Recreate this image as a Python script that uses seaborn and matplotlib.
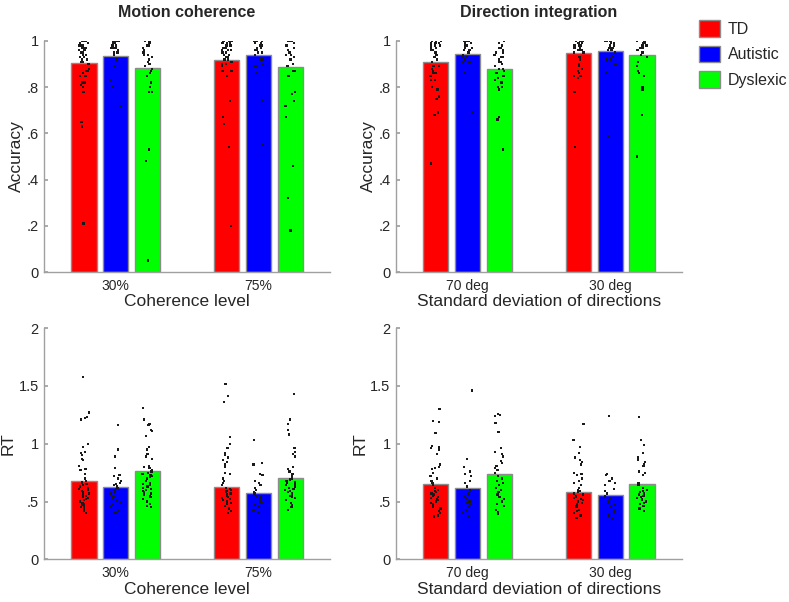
import numpy as np
import pandas as pd
import matplotlib.pyplot as plt
import seaborn as sns
from matplotlib.patches import Patch

# ================= DATA =================

GROUPS = ["TD", "Autistic", "Dyslexic"]
COLORS = ["#ff0000", "#0000ff", "#00ff00"]
MC_LEVELS = ["30%", "75%"]
DI_LEVELS = ["70 deg", "30 deg"]

# bar heights (group means), order TD / Autistic / Dyslexic
acc_mc_mean_30 = [0.906, 0.936, 0.884]
acc_mc_mean_75 = [0.918, 0.939, 0.886]
acc_di_mean_70 = [0.910, 0.942, 0.879]
acc_di_mean_30 = [0.946, 0.955, 0.939]
rt_mc_mean_30 = [0.680, 0.629, 0.765]
rt_mc_mean_75 = [0.629, 0.571, 0.701]
rt_di_mean_70 = [0.652, 0.615, 0.736]
rt_di_mean_30 = [0.583, 0.557, 0.649]

# individual participants - accuracy, motion coherence
acc_mc_30_td = [1, 1, 1, 1, 0.99, 0.99, 0.99, 0.98, 0.98, 0.98, 0.98, 0.97, 0.97, 0.97,
                0.97, 0.96, 0.96, 0.96, 0.95, 0.95, 0.95, 0.94, 0.94, 0.93, 0.93, 0.92,
                0.92, 0.91, 0.91, 0.90, 0.88, 0.87, 0.87, 0.87, 0.86, 0.85, 0.85, 0.82,
                0.82, 0.81, 0.80, 0.78, 0.65, 0.63, 0.21]
acc_mc_30_aut = [1, 1, 1, 0.99, 0.99, 0.98, 0.98, 0.98, 0.97, 0.97, 0.97, 0.96, 0.96,
                 0.96, 0.95, 0.95, 0.95, 0.94, 0.92, 0.89, 0.89, 0.83, 0.80, 0.72]
acc_mc_30_dys = [1, 1, 0.99, 0.99, 0.98, 0.98, 0.97, 0.97, 0.96, 0.96, 0.95, 0.95, 0.94,
                 0.94, 0.93, 0.92, 0.91, 0.90, 0.89, 0.88, 0.87, 0.86, 0.85, 0.82, 0.80,
                 0.78, 0.78, 0.53, 0.48, 0.05]
acc_mc_75_td = [1, 1, 1, 1, 1, 0.99, 0.99, 0.99, 0.98, 0.98, 0.98, 0.98, 0.97, 0.97,
                0.97, 0.96, 0.96, 0.96, 0.95, 0.95, 0.95, 0.94, 0.94, 0.93, 0.93, 0.92,
                0.92, 0.91, 0.90, 0.90, 0.89, 0.87, 0.87, 0.85, 0.74, 0.67, 0.64, 0.54, 0.20]
acc_mc_75_aut = [1, 1, 1, 1, 0.99, 0.99, 0.98, 0.98, 0.97, 0.97, 0.97, 0.96, 0.96, 0.95,
                 0.95, 0.94, 0.92, 0.92, 0.90, 0.89, 0.89, 0.86, 0.74, 0.55]
acc_mc_75_dys = [1, 1, 1, 0.99, 0.99, 0.98, 0.98, 0.97, 0.97, 0.96, 0.96, 0.95, 0.94,
                 0.94, 0.93, 0.92, 0.90, 0.89, 0.87, 0.87, 0.85, 0.78, 0.77, 0.74, 0.72,
                 0.67, 0.46, 0.32, 0.18]

# accuracy, direction integration
acc_di_70_td = [1, 1, 1, 0.99, 0.99, 0.99, 0.98, 0.98, 0.98, 0.97, 0.97, 0.97, 0.96,
                0.96, 0.95, 0.95, 0.94, 0.94, 0.93, 0.92, 0.91, 0.89, 0.89, 0.88, 0.87,
                0.86, 0.86, 0.85, 0.83, 0.83, 0.80, 0.79, 0.76, 0.75, 0.69, 0.68, 0.47]
acc_di_70_aut = [1, 1, 1, 1, 0.99, 0.99, 0.98, 0.98, 0.97, 0.97, 0.96, 0.96, 0.95, 0.95,
                 0.94, 0.93, 0.93, 0.92, 0.91, 0.91, 0.86, 0.69]
acc_di_70_dys = [1, 0.99, 0.98, 0.97, 0.97, 0.96, 0.95, 0.95, 0.94, 0.93, 0.93, 0.92,
                 0.91, 0.91, 0.90, 0.89, 0.88, 0.88, 0.87, 0.86, 0.86, 0.85, 0.84, 0.83,
                 0.82, 0.80, 0.80, 0.79, 0.67, 0.66, 0.66, 0.53]
acc_di_30_td = [1, 1, 1, 1, 1, 0.99, 0.99, 0.99, 0.98, 0.98, 0.98, 0.98, 0.97, 0.97,
                0.97, 0.96, 0.96, 0.96, 0.95, 0.95, 0.93, 0.93, 0.92, 0.90, 0.89, 0.88,
                0.87, 0.86, 0.85, 0.85, 0.84, 0.78, 0.54]
acc_di_30_aut = [1, 1, 1, 1, 0.99, 0.99, 0.98, 0.98, 0.97, 0.97, 0.97, 0.96, 0.96, 0.95,
                 0.93, 0.92, 0.92, 0.90, 0.86, 0.59]
acc_di_30_dys = [1, 1, 1, 0.99, 0.99, 0.98, 0.98, 0.97, 0.97, 0.96, 0.95, 0.94, 0.93,
                 0.93, 0.91, 0.89, 0.87, 0.86, 0.85, 0.80, 0.79, 0.68, 0.50]

# RT, motion coherence
rt_mc_30_td = [1.58, 1.27, 1.23, 1.22, 1.21, 1.00, 0.97, 0.93, 0.92, 0.90, 0.87, 0.86,
               0.81, 0.78, 0.77, 0.74, 0.70, 0.68, 0.67, 0.66, 0.65, 0.64, 0.63, 0.62,
               0.61, 0.60, 0.59, 0.58, 0.57, 0.56, 0.55, 0.54, 0.53, 0.52, 0.51, 0.50,
               0.49, 0.48, 0.47, 0.46, 0.45, 0.44, 0.42, 0.40]
rt_mc_30_aut = [1.16, 0.95, 0.89, 0.79, 0.73, 0.72, 0.70, 0.68, 0.66, 0.65, 0.64, 0.63,
                0.62, 0.61, 0.60, 0.58, 0.57, 0.55, 0.53, 0.51, 0.49, 0.47, 0.45, 0.42,
                0.40, 0.40]
rt_mc_30_dys = [1.31, 1.21, 1.17, 1.16, 1.12, 1.11, 1.07, 0.97, 0.95, 0.91, 0.89, 0.87,
                0.81, 0.80, 0.79, 0.77, 0.76, 0.75, 0.74, 0.73, 0.72, 0.71, 0.70, 0.68,
                0.66, 0.65, 0.64, 0.63, 0.62, 0.61, 0.60, 0.59, 0.58, 0.57, 0.56, 0.55,
                0.54, 0.52, 0.50, 0.48, 0.46, 0.45]
rt_mc_75_td = [1.52, 1.41, 1.36, 1.06, 1.00, 0.96, 0.92, 0.90, 0.88, 0.86, 0.84, 0.82,
               0.80, 0.75, 0.74, 0.70, 0.68, 0.66, 0.64, 0.62, 0.61, 0.60, 0.59, 0.58,
               0.57, 0.56, 0.55, 0.54, 0.53, 0.52, 0.51, 0.50, 0.49, 0.48, 0.46, 0.44,
               0.42, 0.40]
rt_mc_75_aut = [1.03, 0.83, 0.82, 0.74, 0.73, 0.68, 0.66, 0.64, 0.62, 0.60, 0.58, 0.57,
                0.56, 0.55, 0.54, 0.53, 0.52, 0.50, 0.49, 0.47, 0.45, 0.43, 0.40]
rt_mc_75_dys = [1.43, 1.21, 1.17, 1.12, 1.08, 0.96, 0.93, 0.91, 0.89, 0.80, 0.78, 0.76,
                0.74, 0.72, 0.70, 0.69, 0.68, 0.67, 0.66, 0.65, 0.64, 0.63, 0.62, 0.61,
                0.60, 0.59, 0.58, 0.57, 0.56, 0.55, 0.54, 0.53, 0.51, 0.49, 0.47, 0.45,
                0.43]

# RT, direction integration
rt_di_70_td = [1.30, 1.20, 1.19, 1.09, 0.98, 0.97, 0.96, 0.95, 0.91, 0.82, 0.80, 0.79,
               0.78, 0.75, 0.72, 0.70, 0.68, 0.66, 0.64, 0.62, 0.60, 0.59, 0.58, 0.57,
               0.56, 0.55, 0.54, 0.53, 0.52, 0.51, 0.50, 0.49, 0.48, 0.47, 0.46, 0.45,
               0.44, 0.42, 0.40, 0.38, 0.37]
rt_di_70_aut = [1.46, 0.87, 0.80, 0.76, 0.74, 0.72, 0.68, 0.66, 0.63, 0.60, 0.58, 0.56,
                0.54, 0.52, 0.50, 0.49, 0.47, 0.45, 0.43, 0.40, 0.37]
rt_di_70_dys = [1.26, 1.25, 1.24, 1.18, 1.10, 0.96, 0.93, 0.91, 0.89, 0.85, 0.83, 0.81,
                0.79, 0.77, 0.75, 0.72, 0.70, 0.68, 0.66, 0.64, 0.62, 0.60, 0.58, 0.56,
                0.54, 0.52, 0.50, 0.48, 0.46, 0.43, 0.41, 0.39]
rt_di_30_td = [1.17, 1.03, 0.97, 0.92, 0.88, 0.86, 0.84, 0.82, 0.75, 0.74, 0.73, 0.70,
               0.68, 0.66, 0.64, 0.62, 0.60, 0.59, 0.58, 0.57, 0.56, 0.55, 0.54, 0.53,
               0.52, 0.51, 0.50, 0.49, 0.48, 0.47, 0.46, 0.45, 0.43, 0.42, 0.40, 0.38,
               0.36]
rt_di_30_aut = [1.24, 0.74, 0.73, 0.70, 0.68, 0.66, 0.64, 0.61, 0.59, 0.57, 0.55, 0.53,
                0.51, 0.49, 0.47, 0.45, 0.43, 0.41, 0.38, 0.35]
rt_di_30_dys = [1.23, 1.03, 0.99, 0.92, 0.88, 0.86, 0.84, 0.82, 0.81, 0.76, 0.75, 0.73,
                0.66, 0.64, 0.62, 0.60, 0.59, 0.58, 0.57, 0.56, 0.55, 0.54, 0.53, 0.52,
                0.51, 0.50, 0.49, 0.48, 0.46, 0.44, 0.42]

ACC_TICKS = [0, 0.2, 0.4, 0.6, 0.8, 1]
ACC_LABELS = ["0", ".2", ".4", ".6", ".8", "1"]
RT_TICKS = [0, 0.5, 1, 1.5, 2]
RT_LABELS = ["0", ".5", "1", "1.5", "2"]

# ================= STYLE =================

sns.set_theme(style="ticks")
plt.rcParams["font.family"] = ["Liberation Sans", "DejaVu Sans"]

SPINE = "#a0a0a0"
TEXT = "#262626"
BAR_W = 0.667  # total width of the 3-bar group


def mean_frame(levels, means):
    rows = []
    for lev, vals in zip(levels, means):
        for g, v in zip(GROUPS, vals):
            rows.append({"level": lev, "group": g, "value": v})
    return pd.DataFrame(rows)


def point_frame(levels, points):
    rows = []
    for lev, per_group in zip(levels, points):
        for g, vals in zip(GROUPS, per_group):
            for v in vals:
                rows.append({"level": lev, "group": g, "value": v})
    return pd.DataFrame(rows)


def draw_panel(ax, levels, means, points, ylim, ticks, ticklabels, ylabel, xlabel, title=None):
    sns.barplot(data=mean_frame(levels, means), x="level", y="value", hue="group",
                order=levels, hue_order=GROUPS, palette=COLORS, saturation=1,
                width=BAR_W, gap=0.2, edgecolor="#8c8c8c", linewidth=1,
                errorbar=None, legend=False, ax=ax)
    sns.stripplot(data=point_frame(levels, points), x="level", y="value", hue="group",
                  order=levels, hue_order=GROUPS, palette={g: "#1a1a1a" for g in GROUPS},
                  dodge=True, jitter=0.13, size=1.6, marker="s", linewidth=0,
                  legend=False, ax=ax)
    # stripplot dodges on a 0.8 wide group, pull the points onto the narrower bars
    for coll in ax.collections:
        off = coll.get_offsets()
        c = np.round(off[:, 0])
        off[:, 0] = c + (off[:, 0] - c) * BAR_W / 0.8
        coll.set_offsets(off)

    ax.set_xlim(-0.5, 1.5)
    ax.set_ylim(*ylim)
    ax.set_yticks(ticks)
    ax.set_yticklabels(ticklabels)
    ax.tick_params(axis="y", direction="in", length=3, color=SPINE, labelsize=10.5,
                   labelcolor=TEXT, pad=4)
    ax.tick_params(axis="x", length=0, labelsize=10, labelcolor=TEXT, pad=5)
    ax.set_ylabel(ylabel, fontsize=12.5, color=TEXT, labelpad=2)
    ax.set_xlabel(xlabel, fontsize=12.5, color=TEXT, labelpad=1)
    if title:
        ax.set_title(title, fontsize=11.5, fontweight="bold", color=TEXT, pad=17)
    sns.despine(ax=ax)
    for s in ["left", "bottom"]:
        ax.spines[s].set_color(SPINE)
        ax.spines[s].set_linewidth(1)


np.random.seed(3)
fig = plt.figure(figsize=(7.89, 6.02), dpi=100)

ax1 = fig.add_axes([0.0561, 0.548, 0.362, 0.384])
ax2 = fig.add_axes([0.502, 0.548, 0.362, 0.384])
ax3 = fig.add_axes([0.0561, 0.0709, 0.362, 0.384])
ax4 = fig.add_axes([0.502, 0.0709, 0.362, 0.384])

draw_panel(ax1, MC_LEVELS, [acc_mc_mean_30, acc_mc_mean_75],
           [[acc_mc_30_td, acc_mc_30_aut, acc_mc_30_dys],
            [acc_mc_75_td, acc_mc_75_aut, acc_mc_75_dys]],
           (0, 1), ACC_TICKS, ACC_LABELS, "Accuracy", "Coherence level", "Motion coherence")
draw_panel(ax2, DI_LEVELS, [acc_di_mean_70, acc_di_mean_30],
           [[acc_di_70_td, acc_di_70_aut, acc_di_70_dys],
            [acc_di_30_td, acc_di_30_aut, acc_di_30_dys]],
           (0, 1), ACC_TICKS, ACC_LABELS, "Accuracy", "Standard deviation of directions",
           "Direction integration")
draw_panel(ax3, MC_LEVELS, [rt_mc_mean_30, rt_mc_mean_75],
           [[rt_mc_30_td, rt_mc_30_aut, rt_mc_30_dys],
            [rt_mc_75_td, rt_mc_75_aut, rt_mc_75_dys]],
           (0, 2), RT_TICKS, RT_LABELS, "RT", "Coherence level")
draw_panel(ax4, DI_LEVELS, [rt_di_mean_70, rt_di_mean_30],
           [[rt_di_70_td, rt_di_70_aut, rt_di_70_dys],
            [rt_di_30_td, rt_di_30_aut, rt_di_30_dys]],
           (0, 2), RT_TICKS, RT_LABELS, "RT", "Standard deviation of directions")

handles = [Patch(facecolor=c, edgecolor="#8c8c8c", linewidth=1) for c in COLORS]
fig.legend(handles, GROUPS, loc="upper left", bbox_to_anchor=(0.886, 0.966),
           frameon=False, fontsize=11.5, handlelength=1.3, handleheight=1.2,
           handletextpad=0.5, labelspacing=0.55, borderpad=0, borderaxespad=0)

fig.savefig("out.png", dpi=100)
